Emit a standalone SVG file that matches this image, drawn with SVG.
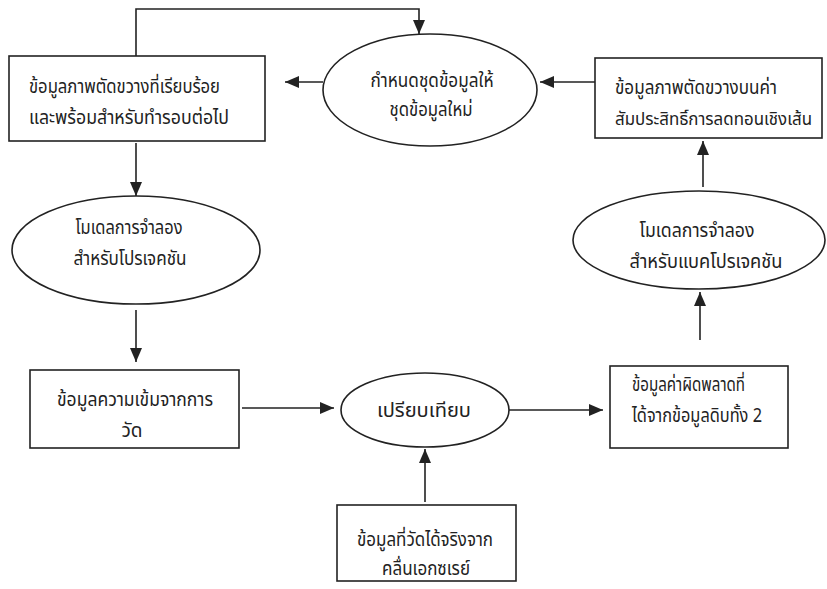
<svg xmlns="http://www.w3.org/2000/svg" width="827" height="589" viewBox="0 0 827 589">
<style>
.box{fill:#fff;stroke:#222;stroke-width:1.6}
.ell{fill:#fff;stroke:#222;stroke-width:1.6}
.ln{fill:none;stroke:#222;stroke-width:1.6}
text{font-family:'Noto Sans Thai','Noto Sans','DejaVu Sans',sans-serif;font-size:19px;fill:#222}
.c{text-anchor:middle}
</style>
<defs>
<marker id="ah" viewBox="0 0 14 12" refX="14" refY="6" markerWidth="14" markerHeight="12" markerUnits="userSpaceOnUse" orient="auto">
<path d="M0,0 L14,6 L0,12 z" fill="#222"/>
</marker>
</defs>
<rect width="827" height="589" fill="#fff"/>
<g id="connectors">
<path class="ln" d="M136,56 V9 H419 V34" marker-end="url(#ah)"/>
<path class="ln" d="M323,82 H285" marker-end="url(#ah)"/>
<path class="ln" d="M595,82 H540" marker-end="url(#ah)"/>
<path class="ln" d="M136,143 V196" marker-end="url(#ah)"/>
<path class="ln" d="M136,310 V362" marker-end="url(#ah)"/>
<path class="ln" d="M242,408 H334" marker-end="url(#ah)"/>
<path class="ln" d="M508,410 H603" marker-end="url(#ah)"/>
<path class="ln" d="M425,502 V449" marker-end="url(#ah)"/>
<path class="ln" d="M700,340 V292" marker-end="url(#ah)"/>
<path class="ln" d="M703,187 V141" marker-end="url(#ah)"/>
</g>
<g id="n1">
<rect class="box" x="9" y="56" width="256" height="85"/>
<text x="29" y="93" textLength="191" lengthAdjust="spacingAndGlyphs">ข้อมูลภาพตัดขวางที่เรียบร้อย</text>
<text x="29" y="124" textLength="200" lengthAdjust="spacingAndGlyphs">และพร้อมสำหรับทำรอบต่อไป</text>
</g>
<g id="n2">
<ellipse class="ell" cx="430" cy="90" rx="107" ry="56"/>
<text class="c" x="432" y="87" textLength="123" lengthAdjust="spacingAndGlyphs">กำหนดชุดข้อมูลให้</text>
<text class="c" x="431" y="116" textLength="83" lengthAdjust="spacingAndGlyphs">ชุดข้อมูลใหม่</text>
</g>
<g id="n3">
<rect class="box" x="595" y="58" width="227" height="80"/>
<text x="615" y="94" textLength="162" lengthAdjust="spacingAndGlyphs">ข้อมูลภาพตัดขวางบนค่า</text>
<text x="615" y="125" style="font-size:17px" textLength="197" lengthAdjust="spacingAndGlyphs">สัมประสิทธิ์การลดทอนเชิงเส้น</text>
</g>
<g id="n4">
<ellipse class="ell" cx="136" cy="250" rx="124" ry="54"/>
<text class="c" x="129" y="234" textLength="107" lengthAdjust="spacingAndGlyphs">โมเดลการจำลอง</text>
<text class="c" x="130" y="265" textLength="113" lengthAdjust="spacingAndGlyphs">สำหรับโปรเจคชัน</text>
</g>
<g id="n5">
<ellipse class="ell" cx="699" cy="240" rx="126" ry="49"/>
<text class="c" x="697" y="237" textLength="115" lengthAdjust="spacingAndGlyphs">โมเดลการจำลอง</text>
<text class="c" x="706" y="268" textLength="153" lengthAdjust="spacingAndGlyphs">สำหรับแบคโปรเจคชัน</text>
</g>
<g id="n6">
<rect class="box" x="30" y="370" width="209" height="78"/>
<text class="c" x="135" y="406" textLength="156" lengthAdjust="spacingAndGlyphs">ข้อมูลความเข้มจากการ</text>
<text class="c" x="132" y="437">วัด</text>
</g>
<g id="n7">
<ellipse class="ell" cx="425" cy="410" rx="84" ry="37"/>
<text class="c" x="424" y="417" textLength="94" lengthAdjust="spacingAndGlyphs">เปรียบเทียบ</text>
</g>
<g id="n8">
<rect class="box" x="610" y="366" width="178" height="82"/>
<text x="632" y="391" textLength="113" lengthAdjust="spacingAndGlyphs">ข้อมูลค่าผิดพลาดที่</text>
<text x="632" y="422" textLength="130" lengthAdjust="spacingAndGlyphs">ได้จากข้อมูลดิบทั้ง 2</text>
</g>
<g id="n9">
<rect class="box" x="337" y="505" width="179" height="76"/>
<text class="c" x="425" y="546" textLength="136" lengthAdjust="spacingAndGlyphs">ข้อมูลที่วัดได้จริงจาก</text>
<text class="c" x="426" y="575" textLength="88" lengthAdjust="spacingAndGlyphs">คลื่นเอกซเรย์</text>
</g>
</svg>
